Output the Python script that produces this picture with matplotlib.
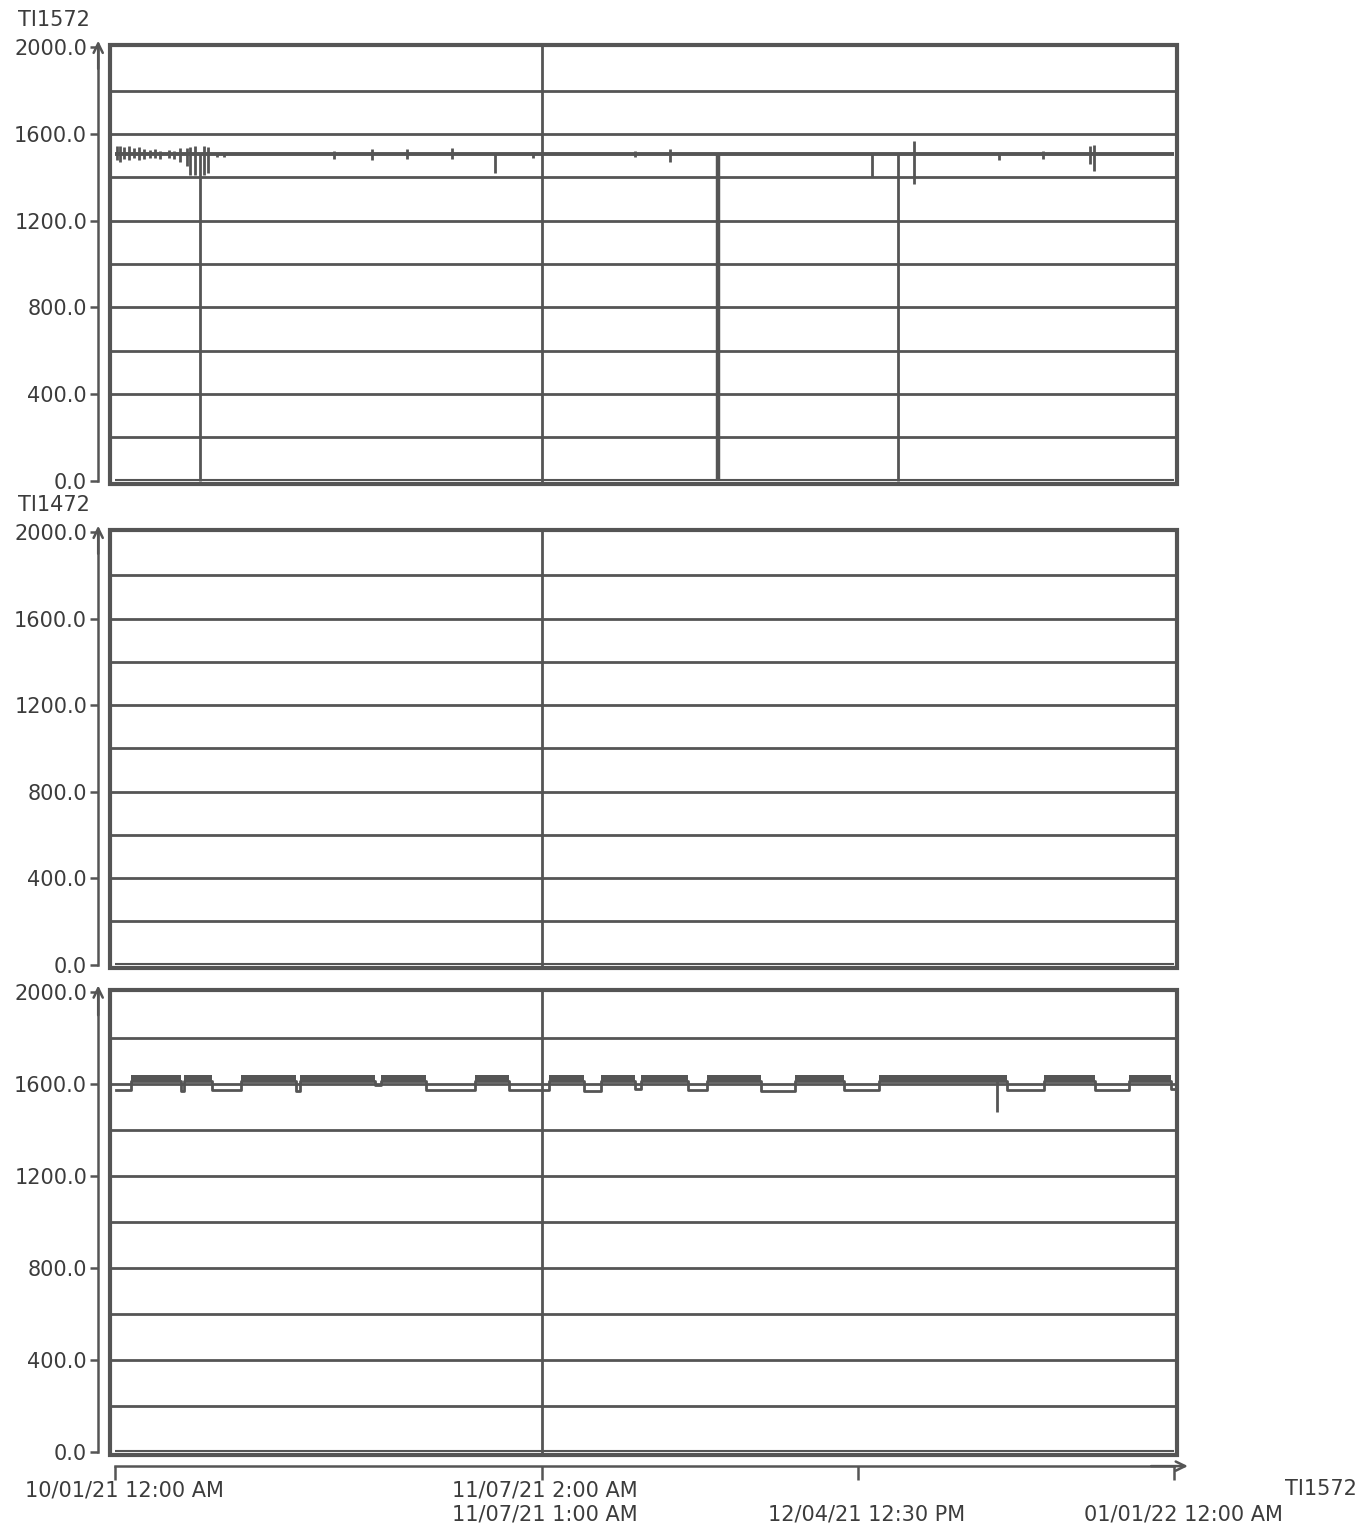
import matplotlib
matplotlib.use("Agg")
import matplotlib.pyplot as plt
import matplotlib.transforms as mtransforms
from matplotlib.patches import Rectangle

# ---- data (x in days since 10/01/21 12:00 AM) ----
dst_day = 37.08

# TI1572 (top): flat trace ~1505 with spikes and drops to zero
p1_base = 1505
p1_spike_day = [0.17, 0.43, 0.78, 1.22, 1.65, 2.09, 2.52, 3.04, 3.48, 3.91,
                4.70, 5.13, 5.65, 6.26, 6.52, 6.96, 7.74, 8.09, 8.87, 9.48,
                19.04, 22.35, 25.39, 29.3, 33.04, 36.26, 45.2, 48.2, 65.74,
                69.4, 76.8, 80.6, 84.7, 85.0]
p1_spike_lo = [1480, 1470, 1485, 1480, 1490, 1480, 1485, 1490, 1490, 1485,
               1490, 1485, 1470, 1450, 1410, 1410, 1410, 1420, 1495, 1495,
               1485, 1480, 1485, 1485, 1420, 1490, 1495, 1470, 1400,
               1370, 1480, 1485, 1460, 1430]
p1_spike_hi = [1545, 1545, 1540, 1545, 1535, 1540, 1530, 1525, 1530, 1520,
               1525, 1520, 1535, 1535, 1540, 1545, 1545, 1540, 1512, 1512,
               1520, 1530, 1530, 1535, 1505, 1515, 1520, 1530, 1505,
               1565, 1505, 1520, 1545, 1550]
p1_drop_day = [7.39, 52.35, 68.0]

# bottom trace: stepped signal, each segment has a min and max
p3_edges = [0.1, 1.4, 5.7, 6.0, 8.4, 10.9, 15.7, 16.1, 22.6, 23.1, 27.0,
            31.3, 34.2, 37.7, 40.7, 42.2, 45.2, 45.7, 49.8, 51.4, 56.1,
            59.1, 63.3, 66.4, 77.5, 80.7, 85.1, 88.1, 91.7, 92.0]
p3_lo = [1575, 1615, 1570, 1615, 1575, 1615, 1570, 1615, 1595, 1615,
         1575, 1615, 1575, 1615, 1572, 1615, 1580, 1615, 1575, 1615,
         1572, 1615, 1575, 1615, 1575, 1615, 1575, 1615, 1580]
p3_hi = [1575, 1640, 1570, 1640, 1575, 1640, 1570, 1640, 1595, 1640,
         1575, 1640, 1575, 1640, 1572, 1640, 1580, 1640, 1575, 1640,
         1572, 1640, 1575, 1640, 1575, 1640, 1575, 1640, 1580]
p3_spike_day = 76.6
p3_spike_lo = 1478

y_ticks = [0, 400, 800, 1200, 1600, 2000]
y_grid = [200, 400, 600, 800, 1000, 1200, 1400, 1600, 1800]
x_tick_days = [0, dst_day, 64.52, 92]
x_tick_labels = ["10/01/21 12:00 AM",
                 "11/07/21 2:00 AM\n11/07/21 1:00 AM",
                 "\n12/04/21 12:30 PM",
                 "\n01/01/22 12:00 AM"]

LC = "#555555"
TC = "#3c3c3c"
W, H = 1359, 1526
plt.rcParams['font.family'] = ['DejaVu Sans']
plt.rcParams['font.size'] = 15

fig = plt.figure(figsize=(W / 100, H / 100), dpi=100)


def make_panel(top, bottom):
    ax = fig.add_axes([110 / W, 1 - bottom / H, 1067 / W, (bottom - top) / H])
    ax.set_xlim(-0.45, 92.25)
    ax.set_ylim(-15, 2010)
    for s in ['top', 'right', 'bottom']:
        ax.spines[s].set_visible(False)
    ax.spines['left'].set_position(('outward', 8.5))
    ax.spines['left'].set_bounds(0, 2000)
    ax.spines['left'].set_linewidth(1.8)
    ax.spines['left'].set_color(LC)
    ax.set_yticks(y_ticks)
    ax.set_yticklabels([f"{v:.1f}" for v in y_ticks])
    ax.tick_params(axis='y', direction='out', length=6, width=1.8,
                   color=LC, labelcolor=TC, labelsize=15, pad=2)
    ax.set_xticks([])
    ax.add_patch(Rectangle((0, 0), 1, 1, transform=ax.transAxes, fill=False,
                           lw=3, ec=LC, clip_on=False, zorder=5))
    for g in y_grid:
        ax.axhline(g, color=LC, lw=2, zorder=1)
    ax.axvline(dst_day, color=LC, lw=2, zorder=1)
    # arrow head on top of y axis
    tr = (mtransforms.blended_transform_factory(ax.transAxes, ax.transData)
          + mtransforms.ScaledTranslation(-8.5 / 72, 0, fig.dpi_scale_trans))
    ax.annotate('', xy=(0, 2030), xytext=(0, 1900), xycoords=tr, textcoords=tr,
                arrowprops=dict(arrowstyle='->,head_length=0.45,head_width=0.22',
                                lw=1.8, color=LC, shrinkA=0, shrinkB=0))
    ax.hlines(3, 0, 92, color=LC, lw=1.5, zorder=2)
    return ax


ax1 = make_panel(45, 484)
ax2 = make_panel(530, 968)
ax3 = make_panel(990, 1455)

# top trace
ax1.hlines(p1_base, 0, 92, color=LC, lw=2.8, zorder=3)
ax1.vlines(p1_spike_day, p1_spike_lo, p1_spike_hi, color=LC, lw=2, zorder=3)
ax1.vlines(p1_drop_day, 0, p1_base, color=LC, lw=[2, 3.2, 2], zorder=3)

# bottom trace
lo_ext = p3_lo + [p3_lo[-1]]
hi_ext = p3_hi + [p3_hi[-1]]
ax3.fill_between(p3_edges, lo_ext, hi_ext, step='post', color=LC, lw=0, zorder=3)
ax3.step(p3_edges, lo_ext, where='post', color=LC, lw=2, zorder=3)
ax3.vlines(p3_spike_day, p3_spike_lo, 1615, color=LC, lw=2, zorder=3)

# bottom time axis
ax3.spines['bottom'].set_visible(True)
ax3.spines['bottom'].set_position(('outward', 8))
ax3.spines['bottom'].set_bounds(0, 92)
ax3.spines['bottom'].set_linewidth(1.8)
ax3.spines['bottom'].set_color(LC)
ax3.set_xticks(x_tick_days)
ax3.set_xticklabels([])
ax3.tick_params(axis='x', direction='out', length=10, width=1.8, color=LC)
# labels start ~90 px left of their tick
lab_tr = (mtransforms.blended_transform_factory(ax3.transData, ax3.transAxes)
          + mtransforms.ScaledTranslation(-0.90, -0.25, fig.dpi_scale_trans))
for d, lbl in zip(x_tick_days, x_tick_labels):
    ax3.text(d, 0, lbl, transform=lab_tr, ha='left', va='top', color=TC,
             fontsize=15, linespacing=1.28)
trx = (mtransforms.blended_transform_factory(ax3.transData, ax3.transAxes)
       + mtransforms.ScaledTranslation(0, -8 / 72, fig.dpi_scale_trans))
ax3.annotate('', xy=(93.2, 0), xytext=(90, 0), xycoords=trx, textcoords=trx,
             arrowprops=dict(arrowstyle='->,head_length=0.45,head_width=0.22',
                             lw=1.8, color=LC, shrinkA=0, shrinkB=0))

fig.text(18 / W, 1 - 20 / H, "TI1572", ha='left', va='center', color=TC, fontsize=15)
fig.text(18 / W, 1 - 505 / H, "TI1472", ha='left', va='center', color=TC, fontsize=15)
fig.text(1321 / W, 1 - 1489 / H, "TI1572", ha='center', va='center', color=TC, fontsize=15)

fig.savefig("out.png", dpi=100, facecolor='white')
